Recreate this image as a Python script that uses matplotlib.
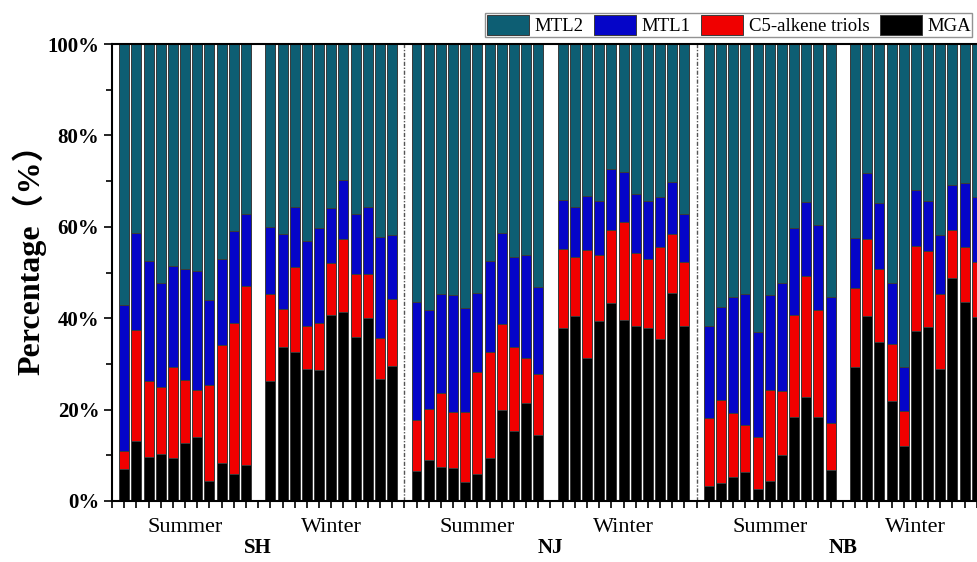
import matplotlib.pyplot as plt
import numpy as np

# percentages, 11 samples per site/season
sites = ["SH", "NJ", "NB"]
seasons = ["Summer", "Winter"]

mga = {
    ("SH", "Summer"): [6.9, 13.1, 9.7, 10.2, 9.5, 12.6, 14.1, 4.4, 8.4, 5.8, 7.8],
    ("SH", "Winter"): [26.2, 33.6, 32.5, 28.8, 28.6, 40.8, 41.4, 35.8, 40.0, 26.6, 29.5],
    ("NJ", "Summer"): [6.6, 9.0, 7.4, 7.3, 4.2, 5.8, 9.5, 19.9, 15.4, 21.5, 14.4],
    ("NJ", "Winter"): [37.9, 40.5, 31.2, 39.3, 43.3, 39.6, 38.3, 37.9, 35.4, 45.5, 38.4],
    ("NB", "Summer"): [3.3, 4.0, 5.3, 6.3, 2.6, 4.4, 10.1, 18.4, 22.7, 18.4, 6.8],
    ("NB", "Winter"): [29.4, 40.5, 34.9, 21.9, 12.1, 37.1, 38.1, 28.9, 48.7, 43.5, 40.2],
}
c5_triols = {
    ("SH", "Summer"): [4.1, 24.3, 16.6, 14.7, 19.8, 13.8, 10.2, 21.0, 25.7, 33.1, 39.3],
    ("SH", "Winter"): [19.2, 8.4, 18.8, 9.4, 10.3, 11.3, 15.9, 13.9, 9.7, 9.1, 14.6],
    ("NJ", "Summer"): [11.1, 11.2, 16.3, 12.2, 15.3, 22.4, 23.0, 18.8, 18.4, 9.9, 13.4],
    ("NJ", "Winter"): [17.2, 13.0, 23.7, 14.6, 15.9, 21.4, 16.0, 15.1, 20.2, 12.9, 13.9],
    ("NB", "Summer"): [14.8, 18.1, 13.9, 10.3, 11.3, 19.9, 14.0, 22.3, 26.5, 23.4, 10.3],
    ("NB", "Winter"): [17.2, 16.9, 15.8, 12.5, 7.6, 18.8, 16.7, 16.4, 10.6, 12.1, 12.0],
}
mtl1 = {
    ("SH", "Summer"): [31.8, 21.3, 26.2, 22.7, 22.2, 24.3, 26.0, 18.6, 18.9, 20.1, 15.7],
    ("SH", "Winter"): [14.6, 16.4, 13.1, 18.8, 20.8, 12.1, 12.9, 13.1, 14.6, 22.0, 14.0],
    ("NJ", "Summer"): [25.9, 21.7, 21.7, 25.6, 22.7, 17.4, 20.0, 19.9, 19.7, 22.4, 19.0],
    ("NJ", "Winter"): [10.8, 10.8, 11.9, 11.7, 13.4, 11.1, 12.9, 12.6, 10.9, 11.5, 10.5],
    ("NB", "Summer"): [20.3, 20.4, 25.5, 28.6, 23.1, 20.8, 23.5, 19.1, 16.3, 18.7, 27.6],
    ("NB", "Winter"): [11.0, 14.4, 14.5, 13.2, 9.6, 12.1, 10.8, 12.9, 9.8, 14.0, 14.3],
}
mtl2 = {
    ("SH", "Summer"): [57.2, 41.3, 47.5, 52.4, 48.5, 49.3, 49.7, 56.0, 47.0, 41.0, 37.2],
    ("SH", "Winter"): [40.0, 41.6, 35.6, 43.0, 40.3, 35.8, 29.8, 37.2, 35.7, 42.3, 41.9],
    ("NJ", "Summer"): [56.4, 58.1, 54.6, 54.9, 57.8, 54.4, 47.5, 41.4, 46.5, 46.2, 53.2],
    ("NJ", "Winter"): [34.1, 35.7, 33.2, 34.4, 27.4, 27.9, 32.8, 34.4, 33.5, 30.1, 37.2],
    ("NB", "Summer"): [61.6, 57.5, 55.3, 54.8, 63.0, 54.9, 52.4, 40.2, 34.5, 39.5, 55.3],
    ("NB", "Winter"): [42.4, 28.2, 34.8, 52.4, 70.7, 32.0, 34.4, 41.8, 30.9, 30.4, 33.5],
}

colors = {"MTL2": "#0d5e73", "MTL1": "#0505c8", "C5-alkene triols": "#f00000", "MGA": "#000000"}

serif = ["Liberation Serif", "DejaVu Serif"]
plt.rcParams["font.family"] = serif

fig = plt.figure(figsize=(9.77, 5.62), dpi=100)
W, H = 977, 562
slot = 12.18
ax = fig.add_axes([112 / W, 61 / H, 72 * slot / W, 457 / H])

pos = 0
group_centers = []
site_centers = []
dash_pos = []
for si, site in enumerate(sites):
    start = pos
    for season in seasons:
        n = len(mga[(site, season)])
        x = np.arange(pos, pos + n)
        bottom = np.zeros(n)
        for name, d in [("MGA", mga), ("C5-alkene triols", c5_triols), ("MTL1", mtl1), ("MTL2", mtl2)]:
            v = np.array(d[(site, season)])
            ax.bar(x, v, bottom=bottom, width=0.82, color=colors[name],
                   edgecolor="#3a3a3a", linewidth=0.7, label=name if pos == 0 else None)
            bottom += v
        group_centers.append((x.mean(), season))
        pos += n + 1
    site_centers.append(((start + pos - 2) / 2, site))
    if si < len(sites) - 1:
        dash_pos.append(pos - 1)

for d in dash_pos:
    ax.axvline(d, color="#555555", lw=1.0, ls=(0, (3, 1.2, 1, 1.2)))

ax.set_xlim(-1, 71)
ax.set_ylim(0, 100)
ax.set_xticks(np.arange(-1, 72))
ax.set_xticklabels([])
ax.set_yticks(np.arange(0, 101, 20))
ax.set_yticks(np.arange(10, 100, 20), minor=True)
ax.set_yticklabels(["%d%%" % v for v in range(0, 101, 20)], fontsize=15, fontweight="bold")
ax.tick_params(axis="y", which="major", length=6, width=1.2, pad=3)
ax.tick_params(axis="y", which="minor", length=4, width=1.2)
ax.tick_params(axis="x", length=5, width=1.2)
for sp in ax.spines.values():
    sp.set_linewidth(1.5)

tr = ax.get_xaxis_transform()
for xc, label in group_centers:
    ax.text(xc, -0.057, label, transform=tr, ha="center", va="center", fontsize=16)
for xc, label in site_centers:
    ax.text(xc, -0.103, label, transform=tr, ha="center", va="center", fontsize=15, fontweight="bold")

fig.text(29 / W, 1 - 252 / H, "Percentage（%）", rotation=90, ha="center", va="center",
         fontsize=23, fontweight="bold", family=["Liberation Serif", "Noto Sans CJK SC"])

handles, labels = ax.get_legend_handles_labels()
order = ["MTL2", "MTL1", "C5-alkene triols", "MGA"]
hmap = dict(zip(labels, handles))
leg = fig.legend([hmap[k] for k in order], order, loc="upper left",
                 bbox_to_anchor=(485 / W, 1 - 13 / H), ncol=4, fontsize=13.5,
                 frameon=True, fancybox=False, edgecolor="#777777",
                 handlelength=2.25, handleheight=1.3, handletextpad=0.3,
                 columnspacing=0.55, borderpad=0.08, borderaxespad=0)
leg.get_frame().set_linewidth(1.0)

fig.savefig("out.png", dpi=100)
